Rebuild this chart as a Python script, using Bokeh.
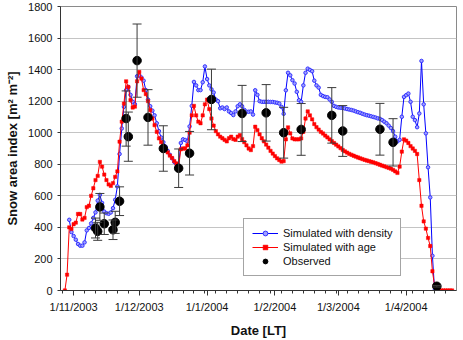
import datetime as dt

from bokeh.plotting import figure
from bokeh.models import (ColumnDataSource, FixedTicker, Legend, LegendItem,
                          Range1d, TeeHead, Whisker)
from bokeh.embed import file_html
from bokeh.resources import INLINE

# ---------------------------------------------------------------------------
# Data: daily snow area index [m2 m-2], winter 2003/2004
# ---------------------------------------------------------------------------
REF_DATE = dt.date(2003, 11, 1)          # x axis is counted in days from here

density_start = dt.date(2003, 10, 30)
density_sai = [
    448, 370,
    345, 322, 295, 284, 284, 305, 381, 396, 425, 460,
    495, 570, 606, 555, 500, 490, 486, 495, 522, 575,
    660, 865, 1027, 1164, 1270, 1290, 1240, 1196, 1181, 1358,
    1364, 1350, 1330, 1270, 1210, 1168, 1140, 1110, 1060, 1010,
    970, 940, 912, 885, 860, 838, 815, 800, 790, 935,
    958, 954, 945, 1040, 1170, 1322, 1300, 1270, 1270, 1320,
    1420, 1340, 1300, 1275, 1255, 1210, 1200, 1155, 1160, 1150,
    1160, 1135, 1125, 1112, 1135, 1168, 1180, 1168, 1145, 1133,
    1133, 1135, 1115, 1269, 1240, 1200, 1196, 1196, 1196, 1196,
    1195, 1195, 1192, 1190, 1185, 1164, 1120, 1269, 1380, 1364,
    1333, 1312, 1259, 1206, 1196, 1300, 1380, 1406, 1398, 1390,
    1330, 1300, 1286, 1240, 1232, 1227, 1225, 1211, 1196, 1170,
    1164, 1160, 1158, 1156, 1154, 1150, 1147, 1144, 1140, 1135,
    1130, 1126, 1120, 1115, 1111, 1108, 1104, 1100, 1096, 1091,
    1088, 1080, 1070, 1060, 1045, 1030, 1010, 975, 945, 955,
    1101, 1227, 1238, 1248, 1196, 1101, 1080, 1035, 1122, 1455,
    1180, 996, 781, 590, 220, 0,
]

age_start = dt.date(2003, 10, 28)
age_sai = [
    0, 100, 400, 390,
    420, 430, 485, 485, 450, 460, 528, 537, 600, 648,
    700, 726, 815, 785, 735, 700, 672, 663, 680, 720,
    755, 943, 1070, 1185, 1326, 1290, 1206, 1160, 1165, 1326,
    1385, 1343, 1270, 1245, 1200, 1143, 1090, 1048, 1006, 964,
    940, 915, 895, 875, 855, 840, 820, 805, 785, 895,
    900, 900, 920, 1000, 1110, 1170, 1110, 1070, 1060, 1110,
    1180, 1210, 1150, 1090, 1045, 1010, 990, 975, 965, 955,
    945, 965, 975, 960, 955, 975, 985, 960, 940, 920,
    900, 890, 915, 1038, 1017, 990, 965, 945, 925, 905,
    885, 868, 852, 838, 827, 817, 820, 958, 1034, 996,
    964, 958, 958, 958, 964, 1006, 1090, 1135, 1110, 1085,
    1055, 1035, 1020, 1005, 995, 982, 970, 958, 946, 935,
    924, 913, 902, 891, 882, 874, 866, 860, 854, 848,
    843, 838, 833, 828, 824, 820, 816, 812, 807, 802,
    797, 792, 787, 782, 777, 772, 765, 755, 745, 785,
    880, 958, 950, 935, 915, 900, 885, 865, 700, 537,
    438, 392, 333, 282, 122, 30, 0, 0, 0, 0,
    0, 0, 0, 0,
]

obs_dates = [
    "2003-11-11", "2003-11-12", "2003-11-13", "2003-11-15", "2003-11-19",
    "2003-11-20", "2003-11-22", "2003-11-25", "2003-11-26", "2003-11-30",
    "2003-12-05", "2003-12-12", "2003-12-19", "2003-12-24", "2004-01-03",
    "2004-01-17", "2004-01-28", "2004-02-05", "2004-02-13", "2004-02-27",
    "2004-03-03", "2004-03-20", "2004-03-26", "2004-04-15",
]
obs_sai = [396, 375, 530, 423, 385, 432, 566, 1090, 975, 1457,
           1097, 900, 775, 870, 1211, 1122, 1126, 1000, 1021, 1110,
           1011, 1022, 939, 27]
obs_err = [63, 57, 85, 68, 62, 70, 91, 175, 156, 232,
           176, 144, 122, 138, 192, 178, 179, 161, 164, 176,
           161, 164, 150, 5]

month_ticks = ["2003-11-01", "2003-12-01", "2004-01-01",
               "2004-02-01", "2004-03-01", "2004-04-01"]
month_labels = ["1/11/2003", "1/12/2003", "1/1/2004",
                "1/2/2004", "1/3/2004", "1/4/2004"]
y_ticks = [0, 200, 400, 600, 800, 1000, 1200, 1400, 1600, 1800]


def day_of(date_str):
    return (dt.date.fromisoformat(date_str) - REF_DATE).days


def daily_days(start, n):
    first = (start - REF_DATE).days
    return [first + i for i in range(n)]


density_x = daily_days(density_start, len(density_sai))
age_x = daily_days(age_start, len(age_sai))
obs_x = [day_of(d) for d in obs_dates]
tick_x = [day_of(d) for d in month_ticks]

FONT = "Liberation Sans"

p = figure(width=463, height=340,
           x_range=Range1d(-6, 175), y_range=Range1d(0, 1800),
           output_backend="svg", toolbar_location=None,
           min_border_left=60, min_border_right=7,
           min_border_top=6, min_border_bottom=49)
p.background_fill_color = "white"
p.border_fill_color = "white"
p.outline_line_color = "#8a8a8a"
p.outline_line_width = 1

# simulated with density
dens_line = p.line(density_x, density_sai, line_color="#0000ff", line_width=1)
dens_pts = p.scatter(density_x, density_sai, marker="circle", size=3.5,
                     line_color="#3333ff", fill_color="#a0a0ff", line_width=1)

# simulated with age
age_line = p.line(age_x, age_sai, line_color="#ff0000", line_width=1)
age_pts = p.scatter(age_x, age_sai, marker="square", size=3.3,
                    line_color="#ff0000", fill_color="#ff0000", line_width=0.5)

# observations with error bars
err_src = ColumnDataSource(dict(
    x=obs_x,
    upper=[v + e for v, e in zip(obs_sai, obs_err)],
    lower=[v - e for v, e in zip(obs_sai, obs_err)],
))
whisk = Whisker(base="x", upper="upper", lower="lower", source=err_src,
                line_color="#3a3a3a", line_width=1,
                upper_head=TeeHead(size=9, line_color="#3a3a3a", line_width=1),
                lower_head=TeeHead(size=9, line_color="#3a3a3a", line_width=1))
whisk.level = "glyph"
p.add_layout(whisk)
obs_pts = p.scatter(obs_x, obs_sai, marker="circle", size=8.5,
                    line_color="black", fill_color="black")

# axes
p.xaxis.ticker = FixedTicker(ticks=tick_x, minor_ticks=list(range(-5, 175, 5)))
p.xaxis.major_label_overrides = {t: lab for t, lab in zip(tick_x, month_labels)}
p.yaxis.ticker = FixedTicker(ticks=y_ticks)

for ax in (p.xaxis, p.yaxis):
    ax.axis_line_color = "#333333"
    ax.axis_line_width = 1
    ax.major_tick_line_color = "#333333"
    ax.minor_tick_line_color = "#333333"
    ax.major_tick_in = 0
    ax.minor_tick_in = 0
    ax.major_label_text_font = FONT
    ax.major_label_text_font_size = "11px"
    ax.major_label_text_color = "#111111"
    ax.axis_label_text_font = FONT
    ax.axis_label_text_font_size = "13px"
    ax.axis_label_text_font_style = "bold"
    ax.axis_label_text_color = "#111111"

p.xaxis.axis_label = "Date [LT]"
p.xaxis.major_tick_out = 5
p.xaxis.minor_tick_out = 3
p.xaxis.major_label_standoff = 5
p.xaxis.axis_label_standoff = 7

p.yaxis.axis_label = "Snow area index [m² m⁻²]"
p.yaxis.major_tick_out = 3
p.yaxis.minor_tick_line_color = None
p.yaxis.major_label_standoff = 5
p.yaxis.axis_label_standoff = 5

p.xgrid.visible = False
p.ygrid.ticker = FixedTicker(ticks=y_ticks)
p.ygrid.grid_line_color = "#c4c4c4"
p.ygrid.grid_line_width = 1

legend = Legend(items=[
    LegendItem(label="Simulated with density", renderers=[dens_line, dens_pts]),
    LegendItem(label="Simulated with age", renderers=[age_line, age_pts]),
    LegendItem(label="Observed", renderers=[obs_pts]),
], location=(183, 14))
legend.label_text_font = FONT
legend.label_text_font_size = "11px"
legend.label_text_color = "#111111"
legend.glyph_width = 26
legend.glyph_height = 12
legend.label_height = 12
legend.label_standoff = 5
legend.spacing = 2
legend.padding = 8
legend.margin = 0
legend.border_line_color = "#4a4a4a"
legend.border_line_width = 1
legend.background_fill_color = "white"
legend.background_fill_alpha = 1.0
p.add_layout(legend)

open("out.html", "w").write(file_html(p, INLINE))
